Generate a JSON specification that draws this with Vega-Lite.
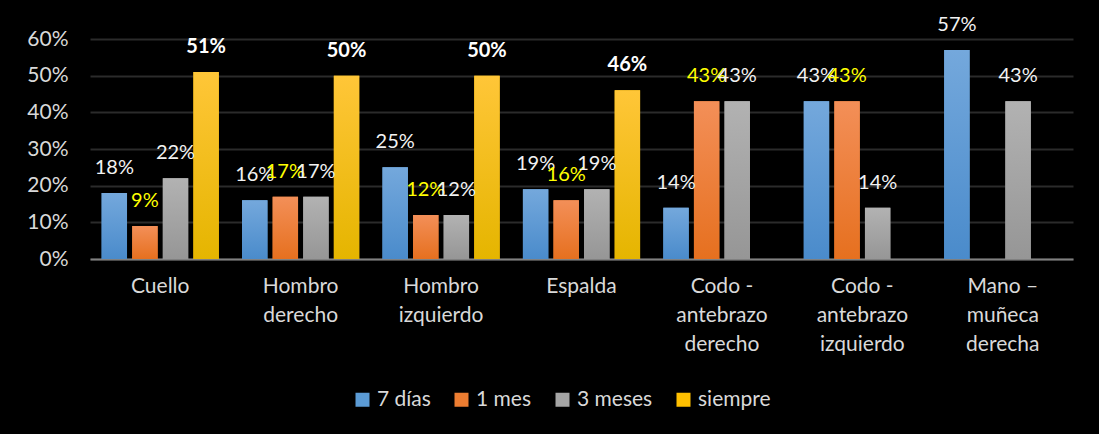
{
  "$schema": "https://vega.github.io/schema/vega-lite/v6.json",
  "width": 983,
  "height": 220,
  "autosize": {"type": "none"},
  "padding": {"left": 90, "top": 39, "right": 26, "bottom": 175},
  "background": "#000000",
  "config": {
    "font": "Lato",
    "view": {"stroke": null},
    "axis": {"labelFont": "Lato", "labelColor": "#d9d9d9", "labelFontSize": 21}
  },
  "data": {
    "values": [
      {"parte": "Cuello", "serie": "7 días", "valor": 0.18},
      {"parte": "Cuello", "serie": "1 mes", "valor": 0.09},
      {"parte": "Cuello", "serie": "3 meses", "valor": 0.22},
      {"parte": "Cuello", "serie": "siempre", "valor": 0.51},
      {"parte": "Hombro derecho", "serie": "7 días", "valor": 0.16},
      {"parte": "Hombro derecho", "serie": "1 mes", "valor": 0.17},
      {"parte": "Hombro derecho", "serie": "3 meses", "valor": 0.17},
      {"parte": "Hombro derecho", "serie": "siempre", "valor": 0.50},
      {"parte": "Hombro izquierdo", "serie": "7 días", "valor": 0.25},
      {"parte": "Hombro izquierdo", "serie": "1 mes", "valor": 0.12},
      {"parte": "Hombro izquierdo", "serie": "3 meses", "valor": 0.12},
      {"parte": "Hombro izquierdo", "serie": "siempre", "valor": 0.50},
      {"parte": "Espalda", "serie": "7 días", "valor": 0.19},
      {"parte": "Espalda", "serie": "1 mes", "valor": 0.16},
      {"parte": "Espalda", "serie": "3 meses", "valor": 0.19},
      {"parte": "Espalda", "serie": "siempre", "valor": 0.46},
      {"parte": "Codo - antebrazo derecho", "serie": "7 días", "valor": 0.14},
      {"parte": "Codo - antebrazo derecho", "serie": "1 mes", "valor": 0.43},
      {"parte": "Codo - antebrazo derecho", "serie": "3 meses", "valor": 0.43},
      {"parte": "Codo - antebrazo izquierdo", "serie": "7 días", "valor": 0.43},
      {"parte": "Codo - antebrazo izquierdo", "serie": "1 mes", "valor": 0.43},
      {"parte": "Codo - antebrazo izquierdo", "serie": "3 meses", "valor": 0.14},
      {"parte": "Mano – muñeca derecha", "serie": "7 días", "valor": 0.57},
      {"parte": "Mano – muñeca derecha", "serie": "3 meses", "valor": 0.43}
    ]
  },
  "encoding": {
    "x": {
      "field": "parte", "type": "nominal", "sort": null,
      "scale": {"paddingInner": 0, "paddingOuter": 0},
      "axis": {
        "title": null, "labelAngle": 0, "ticks": false, "domain": true,
        "domainColor": "#808080", "domainWidth": 2, "labelPadding": 16,
        "labelLineHeight": 29, "labelBaseline": "top",
        "labelExpr": "split(replace(replace(datum.label, ' -', '\u00a0-'), ' –', '\u00a0–'), ' ')"
      }
    },
    "xOffset": {
      "field": "serie", "type": "nominal",
      "sort": ["7 días", "1 mes", "3 meses", "siempre"],
      "scale": {"domain": ["7 días", "1 mes", "3 meses", "siempre"], "paddingInner": 0.17, "paddingOuter": 0.38}
    },
    "y": {
      "field": "valor", "type": "quantitative",
      "scale": {"domain": [0, 0.6]},
      "axis": {
        "title": null, "format": ".0%", "values": [0, 0.1, 0.2, 0.3, 0.4, 0.5, 0.6],
        "labelOverlap": false,
        "ticks": false, "domain": false, "labelPadding": 22,
        "gridColor": "#2b2b2b", "gridWidth": 2
      }
    }
  },
  "layer": [
    {
      "mark": {"type": "bar"},
      "encoding": {
        "color": {
          "field": "serie", "type": "nominal",
          "scale": {"domain": ["7 días", "1 mes", "3 meses", "siempre"], "range": ["#5b9bd5", "#ed7d31", "#a5a5a5", "#ffc000"]},
          "legend": {
            "title": null, "orient": "none", "direction": "horizontal",
            "legendX": 262, "legendY": 350,
            "symbolType": "square", "symbolSize": 196, "symbolStrokeWidth": 0,
            "labelFont": "Lato", "labelFontSize": 21, "labelColor": "#d9d9d9",
            "labelOffset": 4, "columnPadding": 20
          }
        }
      }
    },
    {
      "transform": [{"filter": "datum.serie == '7 días'"}],
      "mark": {"type": "bar", "color": {"gradient": "linear", "x1": 0, "y1": 0, "x2": 0, "y2": 1, "stops": [{"offset": 0, "color": "#74a8dc"}, {"offset": 1, "color": "#4a8bcb"}]}}
    },
    {
      "transform": [{"filter": "datum.serie == '1 mes'"}],
      "mark": {"type": "bar", "color": {"gradient": "linear", "x1": 0, "y1": 0, "x2": 0, "y2": 1, "stops": [{"offset": 0, "color": "#f38f58"}, {"offset": 1, "color": "#e6701f"}]}}
    },
    {
      "transform": [{"filter": "datum.serie == '3 meses'"}],
      "mark": {"type": "bar", "color": {"gradient": "linear", "x1": 0, "y1": 0, "x2": 0, "y2": 1, "stops": [{"offset": 0, "color": "#b2b2b2"}, {"offset": 1, "color": "#969696"}]}}
    },
    {
      "transform": [{"filter": "datum.serie == 'siempre'"}],
      "mark": {"type": "bar", "color": {"gradient": "linear", "x1": 0, "y1": 0, "x2": 0, "y2": 1, "stops": [{"offset": 0, "color": "#ffc638"}, {"offset": 1, "color": "#e5b500"}]}}
    },
    {
      "transform": [{"filter": "datum.serie != 'siempre'"}],
      "mark": {"type": "text", "baseline": "middle", "dy": -25, "fontSize": 20, "font": "Lato"},
      "encoding": {
        "text": {"field": "valor", "type": "quantitative", "format": ".0%"},
        "color": {
          "field": "serie", "type": "nominal",
          "scale": {"domain": ["7 días", "1 mes", "3 meses"], "range": ["#f2f2f2", "#ffff00", "#f2f2f2"]},
          "legend": null
        }
      }
    },
    {
      "transform": [{"filter": "datum.serie == 'siempre'"}],
      "mark": {"type": "text", "baseline": "middle", "dy": -25, "fontSize": 20, "fontWeight": "bold", "font": "Lato", "color": "#ffffff"},
      "encoding": {
        "text": {"field": "valor", "type": "quantitative", "format": ".0%"}
      }
    }
  ],
  "resolve": {"scale": {"color": "independent"}}
}
